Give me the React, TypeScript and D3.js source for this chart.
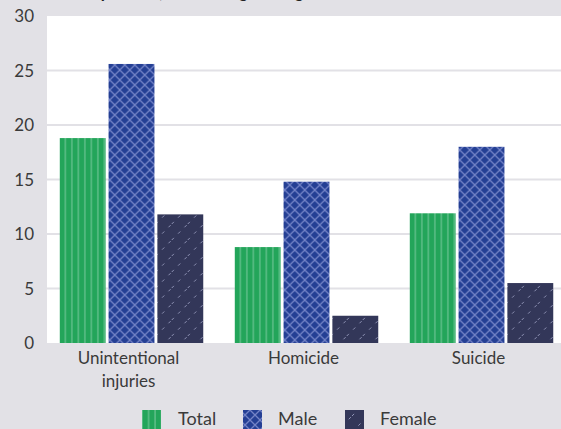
import React from "react";
import * as d3 from "d3";

const categories = ["Unintentional\ninjuries", "Homicide", "Suicide"];
const seriesNames = ["Total", "Male", "Female"];
const totalValues = [18.8, 8.8, 11.9];
const maleValues = [25.6, 14.8, 18.0];
const femaleValues = [11.8, 2.5, 5.5];
const yTicks = [0, 5, 10, 15, 20, 25, 30];

const W = 561;
const H = 429;
const FONT = "Lato, 'Open Sans', sans-serif";

export default function App() {
  const plot = { left: 47, right: 561, top: 16, bottom: 343 };
  const x0 = d3.scaleBand<string>().domain(categories).range([44, 569]).paddingInner(0.18).paddingOuter(0.09);
  const x1 = d3.scaleBand<string>().domain(seriesNames).range([0, x0.bandwidth()]).paddingInner(0.06);
  const y = d3.scaleLinear().domain([0, 30]).range([plot.bottom, plot.top]);
  const series = [
    { name: "Total", values: totalValues, fill: "url(#pTotal)" },
    { name: "Male", values: maleValues, fill: "url(#pMale)" },
    { name: "Female", values: femaleValues, fill: "url(#pFemale)" },
  ];
  const legendPos = [
    { sx: 142, tx: 178 },
    { sx: 243, tx: 278 },
    { sx: 345, tx: 380 },
  ];
  return (
    <svg width={W} height={H} style={{ position: "absolute", left: 0, top: 0 }} fontFamily={FONT}>
      <defs>
        <pattern id="pTotal" patternUnits="userSpaceOnUse" width={6.5} height={10}>
          <rect width={6.5} height={10} fill="#23a55a" />
          <rect x={5} width={1.2} height={10} fill="#6cc493" />
        </pattern>
        <pattern id="pMale" patternUnits="userSpaceOnUse" width={10} height={10}>
          <rect width={10} height={10} fill="#243f94" />
          <path d="M0,0 L10,10 M10,0 L0,10" stroke="#7383c6" strokeWidth={1.3} />
        </pattern>
        <pattern id="pFemale" patternUnits="userSpaceOnUse" width={16} height={16}>
          <rect width={16} height={16} fill="#333759" />
          <path d="M0,16 L16,0" stroke="#8f93b5" strokeWidth={1} strokeDasharray="3 6" />
        </pattern>
      </defs>
      <rect width={W} height={H} fill="#e2e1e6" />
      <text x={62} y={-2} fontSize={17} fontWeight="bold" fill="#222">
        Rate per 100,000 among teenagers
      </text>
      <rect x={plot.left} y={plot.top} width={plot.right - plot.left} height={plot.bottom - plot.top} fill="#ffffff" />
      {yTicks.filter((t) => t > 0 && t < 30).map((t) => (
        <line key={t} x1={plot.left} x2={plot.right} y1={y(t)} y2={y(t)} stroke="#e2e1e6" strokeWidth={2} />
      ))}
      {yTicks.map((t) => (
        <text key={t} x={34} y={y(t) + 6} fontSize={17} textAnchor="end" fill="#3a3a3a">
          {t}
        </text>
      ))}
      {categories.map((c, i) => (
        <g key={c} transform={`translate(${x0(c)},0)`}>
          {series.map((s) => (
            <rect
              key={s.name}
              x={x1(s.name)}
              y={y(s.values[i])}
              width={x1.bandwidth()}
              height={y(0) - y(s.values[i])}
              fill={s.fill}
            />
          ))}
        </g>
      ))}
      {categories.map((c) => (
        <text key={c} x={(x0(c) as number) + x0.bandwidth() / 2 - 3} y={364} fontSize={17} textAnchor="middle" fill="#3a3a3a">
          {c.split("\n").map((line, j) => (
            <tspan key={j} x={(x0(c) as number) + x0.bandwidth() / 2 - 3} dy={j === 0 ? 0 : 23}>
              {line}
            </tspan>
          ))}
        </text>
      ))}
      {series.map((s, i) => (
        <g key={s.name}>
          <rect x={legendPos[i].sx} y={410} width={19} height={19} fill={s.fill} />
          <text x={legendPos[i].tx} y={425} fontSize={18} fill="#3a3a3a">
            {s.name}
          </text>
        </g>
      ))}
    </svg>
  );
}
